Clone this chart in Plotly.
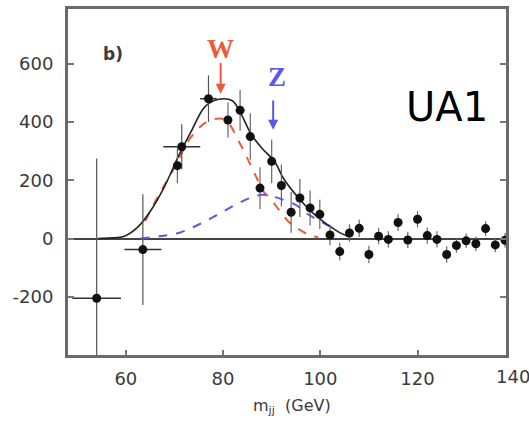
import plotly.graph_objects as go

# Dijet invariant mass spectrum after background subtraction (UA1)
# Wide-bin points with horizontal errors
wide_x = [54, 63.5, 71.5, 77]
wide_y = [-205, -38, 315, 480]
wide_ex = [5, 3.8, 3.8, 1.7]
wide_ey = [480, 190, 77, 80]

# Regular points
pts_x = [70.6, 81, 83.5, 85.6, 87.6, 90, 92, 94, 95.8, 97.9, 99.9, 102, 104, 106, 108,
         110, 112, 114, 116, 118, 120, 122, 124, 126, 128, 130, 132, 134, 136, 138]
pts_y = [250, 407, 440, 350, 173, 265, 182, 90, 139, 105, 83, 12, -45, 19, 35,
         -55, 8, -3, 55, -5, 66, 10, -3, -55, -24, -8, -18, 34, -22, -6]
pts_ey = [60, 60, 70, 80, 72, 75, 72, 70, 65, 60, 50, 35, 30, 30, 30,
          30, 28, 28, 28, 28, 28, 28, 28, 28, 25, 25, 25, 25, 25, 25]

# Fitted curves: total, W component, Z component
total_x = [54.3, 57, 59.7, 62.5, 65.2, 68, 70.8, 73.6, 76.3, 79.1, 81.9, 83.5, 85.9,
           88, 90.7, 92.4, 95.8, 99.2, 103.4, 106]
total_y = [0, 2, 8, 40, 98, 180, 282, 373, 453, 478, 473, 434, 355,
           310, 262, 207, 134, 77, 26, 5]
w_x = [64, 66.3, 68, 70.4, 73.2, 76.6, 79.3, 80.7, 83.5, 85.5, 87, 88.3, 89.6,
       91.7, 93.7, 95.1, 97, 98.5, 99.6]
w_y = [60, 135, 185, 255, 344, 400, 412, 405, 325, 258, 205, 162, 139,
       94, 54, 37, 18, 9, 3]
z_x = [63, 67, 71, 75, 79, 83, 86, 88, 90, 92, 95, 97, 99, 101, 103.5]
z_y = [0, 8, 20, 48, 83, 120, 142, 150, 145, 135, 115, 88, 68, 50, 30]

x_ticks = [60, 80, 100, 120]
y_ticks = [-200, 0, 200, 400, 600]

RED = "#ec5a3c"
BLUE = "#5858f0"
INK = "#3a3a3a"

fig = go.Figure()

fig.add_trace(go.Scatter(x=w_x, y=w_y, mode="lines", line=dict(color=RED, width=2, dash="dash", shape="spline")))
fig.add_trace(go.Scatter(x=z_x, y=z_y, mode="lines", line=dict(color=BLUE, width=2, dash="dash", shape="spline")))
fig.add_trace(go.Scatter(x=total_x, y=total_y, mode="lines", line=dict(color="#222", width=1.6, shape="spline")))

fig.add_trace(go.Scatter(
    x=wide_x, y=wide_y, mode="markers",
    marker=dict(color="#111", size=9),
    error_x=dict(type="data", array=wide_ex, color="#333", thickness=1.6, width=0),
    error_y=dict(type="data", array=wide_ey, color="#555", thickness=1.2, width=0),
))
fig.add_trace(go.Scatter(
    x=pts_x, y=pts_y, mode="markers",
    marker=dict(color="#111", size=9),
    error_y=dict(type="data", array=pts_ey, color="#666", thickness=1.2, width=0),
))

fig.update_layout(
    width=529, height=425,
    margin=dict(l=68, r=23, t=6, b=70),
    paper_bgcolor="white", plot_bgcolor="white",
    showlegend=False,
    font=dict(family="DejaVu Sans", color=INK),
)
fig.update_xaxes(
    range=[48.1, 138.2], tickvals=x_ticks, ticktext=[str(v) for v in x_ticks],
    showgrid=False, zeroline=False,
    showline=True, linecolor="#6a6a6a", linewidth=3, mirror=True,
    ticks="inside", ticklen=5, tickcolor="#777", tickwidth=1.5,
    tickfont=dict(size=18, color=INK), ticklabelstandoff=5,
)
fig.update_yaxes(
    range=[-400, 788], tickvals=y_ticks, ticktext=[str(v) for v in y_ticks],
    showgrid=False, zeroline=True, zerolinecolor="#444", zerolinewidth=2,
    showline=True, linecolor="#6a6a6a", linewidth=3, mirror="ticks",
    ticks="inside", ticklen=6, tickcolor="#777", tickwidth=1.5,
    tickfont=dict(size=18, color=INK), ticklabelstandoff=8,
)

# last x tick label sits just past the frame edge
fig.add_annotation(x=1.016, y=-0.063, xref="paper", yref="paper", text="140",
                   showarrow=False, xanchor="center", yanchor="middle",
                   font=dict(size=18, color=INK))
fig.add_annotation(x=0.512, y=-0.15, xref="paper", yref="paper", showarrow=False,
                   xanchor="center", yanchor="middle",
                   text="m<sub>jj</sub>  (GeV)", font=dict(size=16, color=INK))
fig.add_annotation(x=57.3, y=632, text="<b>b)</b>", showarrow=False,
                   font=dict(size=17, color=INK))

# W and Z mass markers
fig.add_annotation(x=79.4, y=652, text="<b>W</b>", showarrow=False,
                   font=dict(family="Liberation Serif", size=27, color=RED))
fig.add_annotation(x=79.5, y=497, ax=79.5, ay=608, xref="x", yref="y", axref="x", ayref="y",
                   text="", showarrow=True, arrowhead=2, arrowsize=1, arrowwidth=2, arrowcolor=RED)
fig.add_annotation(x=91.1, y=556, text="<b>Z</b>", showarrow=False,
                   font=dict(family="Liberation Serif", size=27, color=BLUE))
fig.add_annotation(x=90.3, y=373, ax=90.3, ay=479, xref="x", yref="y", axref="x", ayref="y",
                   text="", showarrow=True, arrowhead=2, arrowsize=1, arrowwidth=2, arrowcolor=BLUE)

fig.add_annotation(x=126.0, y=451, text="UA1", showarrow=False,
                   font=dict(family="DejaVu Sans", size=40, color="black"))

fig.write_html("out.html")
